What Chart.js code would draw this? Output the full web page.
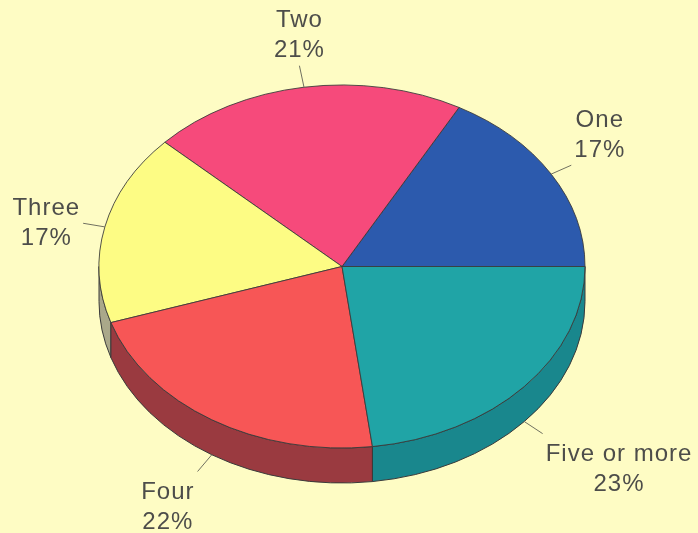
<!DOCTYPE html>
<html>
<head>
<meta charset="utf-8">
<script src="https://cdn.jsdelivr.net/npm/chart.js@4"></script>
<style>
  html, body { margin: 0; padding: 0; background: #fefcc4; }
  #pie-chart { display: block; }
</style>
</head>
<body>
<canvas id="pie-chart" width="698" height="533"></canvas>
<script>
const categories = ['One', 'Two', 'Three', 'Four', 'Five or more'];
const shares = [17, 21, 17, 22, 23];
const topColors = ['#2c5aad', '#f64a7b', '#fdfc84', '#f75656', '#20a4a6'];
const sideColors = ['#1d3d78', '#a83354', '#aaa88a', '#9a3a40', '#19878d'];

const tilt = 0.747;   // vertical squash of the pie
const depth = 35;     // height of the side band
const leader = 22;

function drawSides(ctx, arcs) {
    const { x: cx, y: cy, outerRadius: r } = arcs[0];
    const ry = r * tilt;

    arcs.forEach((arc, i) => {
        // only the front half (screen bottom) shows a side
        const a = Math.max(arc.startAngle, Math.PI);
        const b = Math.min(arc.endAngle, Math.PI * 2);
        if (b <= a) {
            return;
        }
        ctx.beginPath();
        ctx.ellipse(cx, cy, r, ry, 0, -a, -b, true);
        ctx.ellipse(cx, cy + depth, r, ry, 0, -b, -a, false);
        ctx.closePath();
        ctx.fillStyle = sideColors[i];
        ctx.fill();
        ctx.lineWidth = 1;
        ctx.strokeStyle = '#3a3a3a';
        ctx.stroke();
    });
}

function drawLabels(ctx, arcs) {
    const { x: cx, y: cy, outerRadius: r } = arcs[0];
    const ry = r * tilt;

    ctx.save();
    ctx.font = '24px "Liberation Sans", Arial, sans-serif';
    ctx.letterSpacing = '1px';
    ctx.textBaseline = 'middle';
    ctx.textAlign = 'center';

    arcs.forEach((arc, i) => {
        const mid = (arc.startAngle + arc.endAngle) / 2;
        const ex = cx + r * Math.cos(mid);
        const ey = cy - ry * Math.sin(mid) + (Math.sin(mid) < 0 ? depth : 0);

        let ux = Math.cos(mid);
        let uy = -Math.sin(mid) * tilt;
        const len = Math.hypot(ux, uy);
        ux /= len;
        uy /= len;

        const lx = ex + ux * leader;
        const ly = ey + uy * leader;

        ctx.beginPath();
        ctx.moveTo(ex, ey);
        ctx.lineTo(lx, ly);
        ctx.strokeStyle = '#707060';
        ctx.lineWidth = 1;
        ctx.stroke();

        const lines = [categories[i], `${shares[i]}%`];
        const width = Math.max(...lines.map(t => ctx.measureText(t).width));
        const lineHeight = 30;
        const blockH = lines.length * lineHeight;

        let centerX = lx;
        if (ux > 0.3) centerX = lx + 3 + width / 2;
        else if (ux < -0.3) centerX = lx - 3 - width / 2;

        let top = ly - blockH / 2;
        if (uy < -0.3) top = ly - blockH;
        else if (uy > 0.3) top = ly + 6;

        ctx.fillStyle = '#4d4d4a';
        lines.forEach((t, k) => {
            ctx.fillText(t, centerX, top + lineHeight * k + lineHeight / 2);
        });
    });
    ctx.restore();
}

const pie3d = {
    id: 'pie3d',
    beforeDatasetsDraw(chart) {
        const ctx = chart.ctx;
        const arcs = chart.getDatasetMeta(0).data;
        const { x: cx, y: cy } = arcs[0];

        drawSides(ctx, arcs);

        // squash and flip so slices run counter-clockwise on an ellipse
        ctx.save();
        ctx.translate(cx, cy);
        ctx.scale(1, -tilt);
        ctx.translate(-cx, -cy);
    },
    afterDatasetsDraw(chart) {
        chart.ctx.restore();
        drawLabels(chart.ctx, chart.getDatasetMeta(0).data);
    }
};

new Chart(document.getElementById('pie-chart'), {
    type: 'pie',
    data: {
        labels: categories,
        datasets: [{
            data: shares,
            backgroundColor: topColors,
            borderColor: '#3a3a3a',
            borderWidth: 1,
            clip: false
        }]
    },
    options: {
        responsive: false,
        animation: false,
        events: [],
        rotation: 90,
        radius: 243,
        layout: {
            padding: { left: 0, right: 14, top: 0, bottom: 0 }
        },
        plugins: {
            legend: { display: false },
            tooltip: { enabled: false }
        }
    },
    plugins: [pie3d]
});
</script>
</body>
</html>
